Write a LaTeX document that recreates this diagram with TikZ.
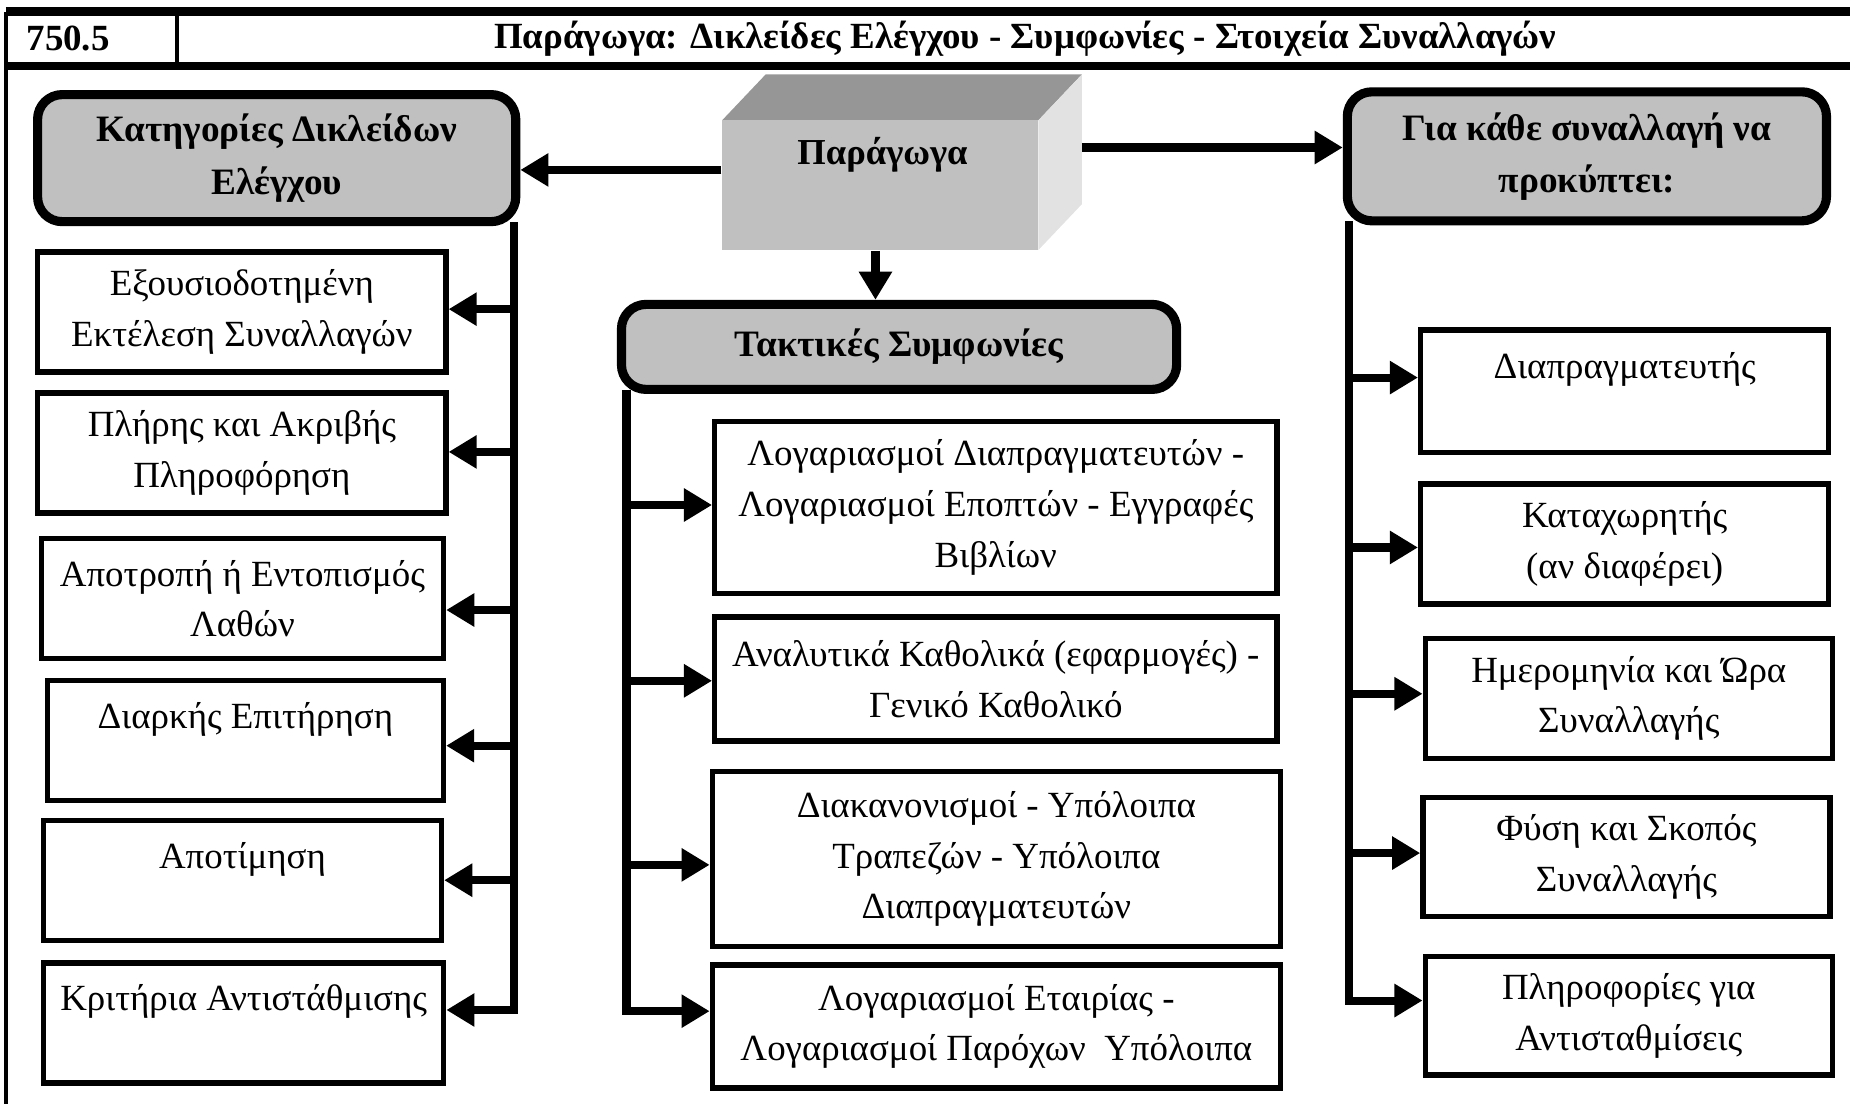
\documentclass[tikz,border=0pt]{standalone}
\usepackage{fontspec}
\setmainfont{Liberation Serif}
\usepackage{tikz}
\usetikzlibrary{arrows.meta, positioning, calc}
\definecolor{hdrgray}{HTML}{C0C0C0}
\definecolor{topgray}{HTML}{969696}
\definecolor{sidegray}{HTML}{E2E2E2}

\begin{document}
\begin{tikzpicture}[x=0.0118cm, y=-0.0118cm,
  box/.style={draw, line width=1.5pt, align=center, inner sep=0pt, minimum height=1.2cm, font=\fontsize{10.5}{14.4}\selectfont},
  hdr/.style={draw, line width=2.6pt, rounded corners=7pt, fill=hdrgray, align=center, inner sep=0pt, font=\fontsize{10.6}{14.8}\selectfont\bfseries},
  arr/.style={line width=2.3pt, -{Triangle[length=8pt,width=9pt]}},
  spine/.style={line width=2.3pt, line cap=rect}]

\useasboundingbox (0,0) rectangle (1568,936);

% Cabecera
\draw[line width=2.5pt] (5,10) -- (1568,10);
\draw[line width=2.5pt] (5,56) -- (1568,56);
\draw[line width=1.3pt] (5,10) -- (5,936);
\draw[line width=1.3pt] (150,10) -- (150,56);
\node[anchor=west, font=\fontsize{10.5}{13}\selectfont\bfseries] (num) at (12,33) {750.5};
\node[font=\fontsize{10.5}{13}\selectfont\bfseries] (title) at (869,33) {Παράγωγα: Δικλείδες Ελέγχου - Συμφωνίες - Στοιχεία Συναλλαγών};

% Κουτί Παράγωγα
\fill[topgray] (612,102) -- (649,63) -- (917,63) -- (880,102) -- cycle;
\fill[sidegray] (880,102) -- (917,63) -- (917,173) -- (880,212) -- cycle;
\node[fill=hdrgray, minimum width=3.16cm, minimum height=1.3cm] (par) at (746,157) {};
\node[font=\fontsize{10.4}{13}\selectfont\bfseries] (parlbl) at (748,131) {Παράγωγα};
\coordinate (parside) at (917,125);

% Επικεφαλίδες
\node[hdr, minimum width=4.78cm, minimum height=1.27cm] (kat) at (234.5,134) {Κατηγορίες Δικλείδων\\Ελέγχου};
\node[hdr, minimum width=5.55cm, minimum height=0.85cm] (tak) at (762,294) {Τακτικές Συμφωνίες};
\node[hdr, minimum width=4.79cm, minimum height=1.29cm] (gia) at (1345,132.5) {Για κάθε συναλλαγή να\\προκύπτει:};

\coordinate (ya) at (0,144);
\draw[arr] (par.west |- ya) -- (kat.east |- ya);
\draw[arr] (parside) -- (gia.west |- parside);
\draw[arr] (par.south -| 742,0) -- (tak.north -| 742,0);

% Αριστερή στήλη
\node[box, minimum width=4.08cm] (k1) at (205,264.5) {Εξουσιοδοτημένη\\Εκτέλεση Συναλλαγών};
\node[box, minimum width=4.08cm] (k2) at (205,384) {Πλήρης και Ακριβής\\Πληροφόρηση};
\node[box, minimum width=4.02cm] (k3) at (205.5,507.5) {Αποτροπή ή Εντοπισμός\\Λαθών};
\node[box, minimum width=3.96cm] (k4) at (208,627.5) {Διαρκής Επιτήρηση\\\mbox{}};
\node[box, minimum width=3.98cm] (k5) at (205.5,746.5) {Αποτίμηση\\\mbox{}};
\node[box, minimum width=4.0cm] (k6) at (206.5,867) {Κριτήρια Αντιστάθμισης\\\mbox{}};

\foreach \i/\y in {1/262,2/383,3/517,4/632,5/746,6/856}
  \coordinate (kl\i) at (436,\y);
\draw[spine] (kat.south east -| kl1) -- (kl6);
\foreach \i in {1,...,6}
  \draw[arr] (kl\i) -- (k\i.east |- kl\i);

% Μεσαία στήλη
\node[box, minimum width=5.62cm, minimum height=1.72cm] (c1) at (844,430) {Λογαριασμοί Διαπραγματευτών -\\Λογαριασμοί Εποπτών - Εγγραφές\\Βιβλίων};
\node[box, minimum width=5.62cm, minimum height=1.24cm] (c2) at (844,575.5) {Αναλυτικά Καθολικά (εφαρμογές) -\\Γενικό Καθολικό};
\node[box, minimum width=5.68cm, minimum height=1.75cm] (c3) at (844.5,728) {Διακανονισμοί - Υπόλοιπα\\Τραπεζών - Υπόλοιπα\\Διαπραγματευτών};
\node[box, minimum width=5.68cm, minimum height=1.23cm] (c4) at (844.5,870) {Λογαριασμοί Εταιρίας -\\Λογαριασμοί Παρόχων\ \ Υπόλοιπα};

\foreach \i/\y in {1/428,2/577,3/733,4/857}
  \coordinate (cl\i) at (531,\y);
\draw[spine] (tak.south -| cl1) -- (cl4);
\foreach \i in {1,...,4}
  \draw[arr] (cl\i) -- (c\i.west |- cl\i);

% Δεξιά στήλη
\node[box, minimum width=4.08cm, minimum height=1.22cm] (r1) at (1377,331.5) {Διαπραγματευτής\\\mbox{}};
\node[box, minimum width=4.08cm] (r2) at (1377,461) {Καταχωρητής\\(αν διαφέρει)};
\node[box, minimum width=4.07cm] (r3) at (1380.5,592) {Ημερομηνία και Ώρα\\Συναλλαγής};
\node[box, minimum width=4.07cm, minimum height=1.19cm] (r4) at (1378.5,726.5) {Φύση και Σκοπός\\Συναλλαγής};
\node[box, minimum width=4.07cm, minimum height=1.18cm] (r5) at (1380.5,861) {Πληροφορίες για\\Αντισταθμίσεις};

\foreach \i/\y in {1/320,2/464,3/588,4/723,5/848}
  \coordinate (rl\i) at (1143,\y);
\draw[spine] (gia.south -| rl1) -- (rl5);
\foreach \i in {1,...,5}
  \draw[arr] (rl\i) -- (r\i.west |- rl\i);

\end{tikzpicture}
\end{document}
